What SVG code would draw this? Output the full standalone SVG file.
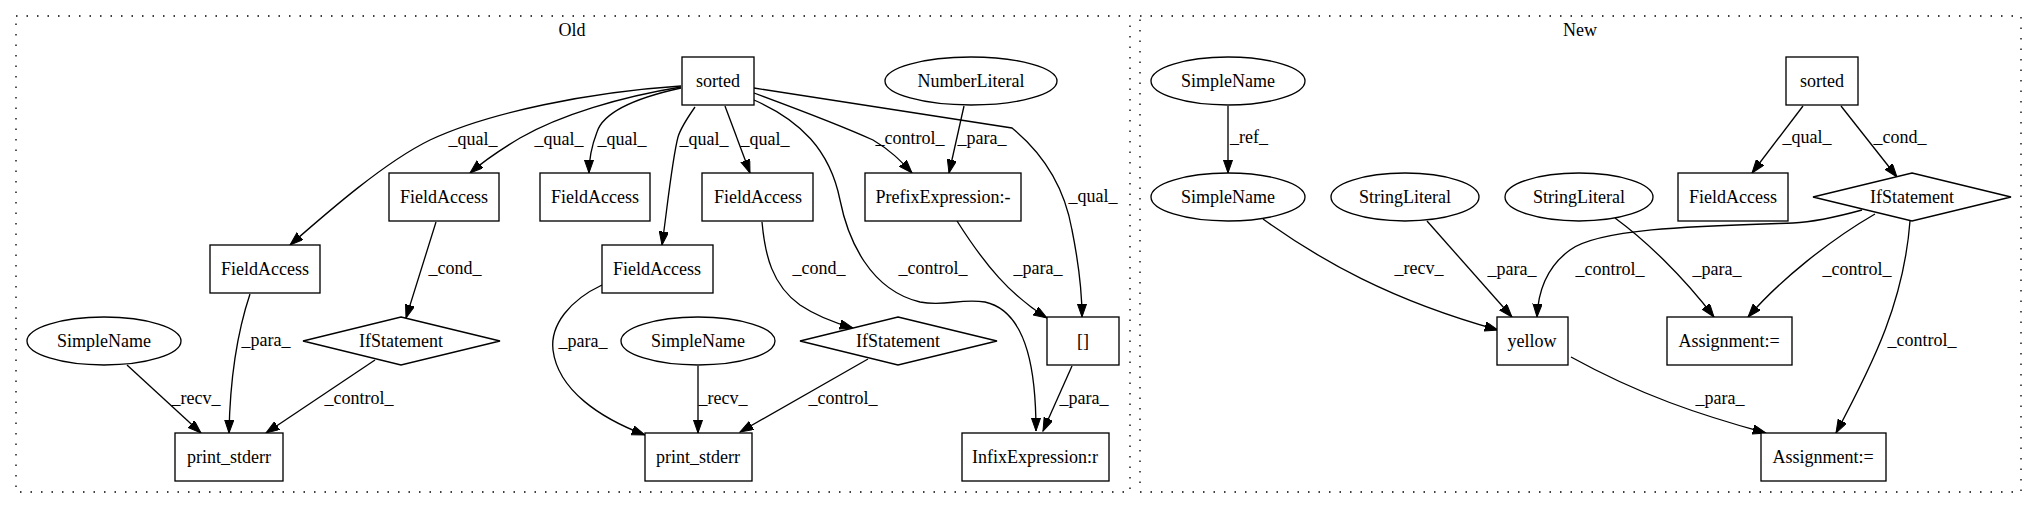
<svg xmlns="http://www.w3.org/2000/svg" width="2033" height="508" viewBox="0 0 2033 508" font-family="'Liberation Serif', 'Times New Roman', serif" font-size="18">
<style>
text{font-family:'Liberation Serif','Times New Roman',serif;font-size:18px;fill:#000;text-anchor:middle}
.n rect,.n ellipse,.n polygon{fill:#fff;stroke:#000;stroke-width:1.33}
.e path{fill:none;stroke:#000;stroke-width:1.33;marker-end:url(#ah)}
.cl{fill:none;stroke:#000;stroke-width:1.33;stroke-dasharray:1.5,9}
</style>
<defs>
<marker id="ah" markerUnits="userSpaceOnUse" markerWidth="14" markerHeight="10" refX="13.3" refY="4.67" orient="auto">
<path d="M0,0 L13.3,4.67 L0,9.33 z" fill="#000" stroke="#000" stroke-width="1"/>
</marker>
</defs>
<rect width="2033" height="508" fill="#fff"/>
<g id="clusters">
<rect class="cl" x="16" y="16" width="1114" height="476"/>
<text x="572" y="36">Old</text>
<rect class="cl" x="1140" y="16" width="881" height="476"/>
<text x="1580" y="36">New</text>
</g>
<g id="edges" class="e">
<path d="M681,86 C590,92 490,112 430,140 C385,162 330,210 290,245"/>
<path d="M681,87 C620,97 560,115 520,138 C505,147 485,160 470,173"/>
<path d="M681,88 C640,97 604,110 597,132 C592,145 589,158 589,173"/>
<path d="M695,107 C688,117 681,127 678,137 C672,160 667,210 662,245"/>
<path d="M725,106 L750,173"/>
<path d="M754,93 C800,110 840,125 873,140 C890,150 900,160 912,173"/>
<path d="M964,106 L949,173"/>
<path d="M754,88 L1012,128 C1045,155 1065,190 1072,230 C1078,260 1082,290 1082,317"/>
<path d="M754,100 C800,120 830,150 840,200 C848,240 870,290 920,302 C945,307 960,298 985,302 C1030,312 1036,380 1036,431"/>
<path d="M957,221 C985,265 1010,295 1047,318"/>
<path d="M1072,366 L1043,431"/>
<path d="M762,222 C765,255 772,285 800,305 C815,315 835,323 853,328"/>
<path d="M868,359 L740,432"/>
<path d="M698,366 L698,433"/>
<path d="M602,285 C570,300 550,325 553,350 C558,390 600,418 645,435"/>
<path d="M250,294 C238,330 230,380 229,433"/>
<path d="M436,222 L406,318"/>
<path d="M375,360 L266,433"/>
<path d="M127,365 L201,433"/>
<path d="M1228,106 L1228,173"/>
<path d="M1803,106 L1752,173"/>
<path d="M1841,106 L1897,177"/>
<path d="M1263,219 C1320,260 1390,300 1498,330"/>
<path d="M1427,221 L1512,317"/>
<path d="M1862,210 C1840,216 1815,222 1793,223 C1700,226 1600,228 1570,250 C1545,268 1538,295 1537,317"/>
<path d="M1615,218 C1645,240 1682,275 1714,317"/>
<path d="M1875,214 C1830,240 1780,280 1748,317"/>
<path d="M1910,221 C1904,300 1875,360 1836,433"/>
<path d="M1571,357 C1640,395 1700,415 1766,433"/>
</g>
<g id="edge-labels">
<text x="473" y="145">_qual_</text>
<text x="559" y="145">_qual_</text>
<text x="622" y="145">_qual_</text>
<text x="704" y="145">_qual_</text>
<text x="765" y="145">_qual_</text>
<text x="910" y="144">_control_</text>
<text x="982" y="144">_para_</text>
<text x="1093" y="202">_qual_</text>
<text x="455" y="274">_cond_</text>
<text x="819" y="274">_cond_</text>
<text x="933" y="274">_control_</text>
<text x="1038" y="274">_para_</text>
<text x="266" y="346">_para_</text>
<text x="583" y="347">_para_</text>
<text x="196" y="404">_recv_</text>
<text x="359" y="404">_control_</text>
<text x="723" y="404">_recv_</text>
<text x="843" y="404">_control_</text>
<text x="1084" y="404">_para_</text>
<text x="1249" y="143">_ref_</text>
<text x="1807" y="143">_qual_</text>
<text x="1900" y="143">_cond_</text>
<text x="1419" y="274">_recv_</text>
<text x="1512" y="275">_para_</text>
<text x="1610" y="275">_control_</text>
<text x="1717" y="275">_para_</text>
<text x="1857" y="275">_control_</text>
<text x="1922" y="346">_control_</text>
<text x="1720" y="404">_para_</text>
</g>
<g id="old_sorted" class="n"><rect x="682" y="57" width="72" height="48"/><text x="718" y="87">sorted</text></g>
<g id="old_numberliteral" class="n"><ellipse cx="971" cy="81" rx="86" ry="24"/><text x="971" y="87">NumberLiteral</text></g>
<g id="old_prefix" class="n"><rect x="865" y="173" width="156" height="48"/><text x="943" y="203">PrefixExpression:-</text></g>
<g id="old_fa1" class="n"><rect x="389" y="173" width="110" height="48"/><text x="444" y="203">FieldAccess</text></g>
<g id="old_fa2" class="n"><rect x="540" y="173" width="110" height="48"/><text x="595" y="203">FieldAccess</text></g>
<g id="old_fa3" class="n"><rect x="702" y="173" width="111" height="48"/><text x="758" y="203">FieldAccess</text></g>
<g id="old_fa4" class="n"><rect x="210" y="245" width="110" height="48"/><text x="265" y="275">FieldAccess</text></g>
<g id="old_fa5" class="n"><rect x="602" y="245" width="111" height="48"/><text x="657" y="275">FieldAccess</text></g>
<g id="old_index" class="n"><rect x="1047" y="317" width="72" height="48"/><text x="1083" y="347">[]</text></g>
<g id="old_if1" class="n"><polygon points="401,317 500,341 401,365 303,341"/><text x="401" y="347">IfStatement</text></g>
<g id="old_if2" class="n"><polygon points="898,317 997,341 898,365 800,341"/><text x="898" y="347">IfStatement</text></g>
<g id="old_sn1" class="n"><ellipse cx="104" cy="341" rx="77" ry="24"/><text x="104" y="347">SimpleName</text></g>
<g id="old_sn2" class="n"><ellipse cx="698" cy="341" rx="77" ry="24"/><text x="698" y="347">SimpleName</text></g>
<g id="old_ps1" class="n"><rect x="175" y="433" width="108" height="48"/><text x="229" y="463">print_stderr</text></g>
<g id="old_ps2" class="n"><rect x="645" y="433" width="107" height="48"/><text x="698" y="463">print_stderr</text></g>
<g id="old_infix" class="n"><rect x="962" y="433" width="147" height="48"/><text x="1035" y="463">InfixExpression:r</text></g>
<g id="new_sn1" class="n"><ellipse cx="1228" cy="81" rx="77" ry="24"/><text x="1228" y="87">SimpleName</text></g>
<g id="new_sn2" class="n"><ellipse cx="1228" cy="197" rx="77" ry="24"/><text x="1228" y="203">SimpleName</text></g>
<g id="new_sl1" class="n"><ellipse cx="1405" cy="197" rx="74" ry="24"/><text x="1405" y="203">StringLiteral</text></g>
<g id="new_sl2" class="n"><ellipse cx="1579" cy="197" rx="74" ry="24"/><text x="1579" y="203">StringLiteral</text></g>
<g id="new_sorted" class="n"><rect x="1786" y="57" width="72" height="48"/><text x="1822" y="87">sorted</text></g>
<g id="new_fa" class="n"><rect x="1678" y="173" width="110" height="48"/><text x="1733" y="203">FieldAccess</text></g>
<g id="new_if" class="n"><polygon points="1912,173 2011,197 1912,221 1813,197"/><text x="1912" y="203">IfStatement</text></g>
<g id="new_yellow" class="n"><rect x="1497" y="317" width="71" height="48"/><text x="1532" y="347">yellow</text></g>
<g id="new_assign1" class="n"><rect x="1667" y="317" width="125" height="48"/><text x="1729" y="347">Assignment:=</text></g>
<g id="new_assign2" class="n"><rect x="1761" y="433" width="125" height="48"/><text x="1823" y="463">Assignment:=</text></g>
</svg>
